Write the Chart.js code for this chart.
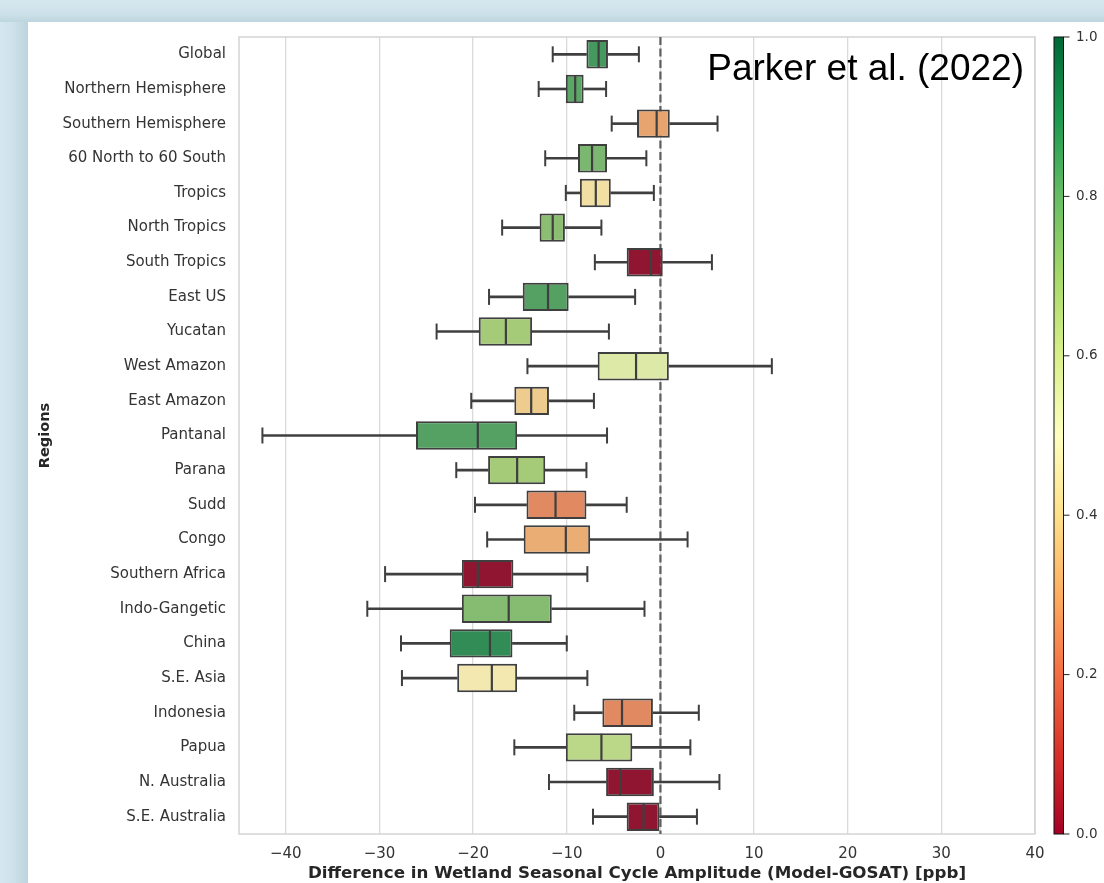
<!DOCTYPE html>
<html>
<head>
<meta charset="utf-8">
<script src="https://cdn.jsdelivr.net/npm/chart.js@4.4.0/dist/chart.umd.min.js"></script>
<style>
html,body{margin:0;padding:0;width:1104px;height:883px;overflow:hidden;background:linear-gradient(90deg,#d5e8ef 0px,#cce1e9 14px,#bcd4dd 28px,#d5e8ef 29px);}
#topband{position:absolute;left:0;top:0;width:1104px;height:22px;background:linear-gradient(180deg,#d5e8ef 0px,#cde1e9 14px,#bdd5de 22px);}
#panel{position:absolute;left:28px;top:22px;right:0;bottom:0;background:#ffffff;}
#c{position:absolute;left:0;top:0;}
</style>
</head>
<body>
<div id="topband"></div>
<div id="panel"></div>
<canvas id="c" width="1104" height="883"></canvas>
<script>
// ---------------- data ----------------
const regions = ['Global','Northern Hemisphere','Southern Hemisphere','60 North to 60 South','Tropics','North Tropics','South Tropics','East US','Yucatan','West Amazon','East Amazon','Pantanal','Parana','Sudd','Congo','Southern Africa','Indo-Gangetic','China','S.E. Asia','Indonesia','Papua','N. Australia','S.E. Australia'];
const whiskerLow  = [-11.5,-13.0,-5.2,-12.3,-10.1,-16.9,-7.0,-18.3,-23.9,-14.2,-20.2,-42.5,-21.8,-19.8,-18.5,-29.4,-31.3,-27.7,-27.6,-9.2,-15.6,-11.9,-7.2];
const q1          = [-7.9,-10.1,-2.5,-8.8,-8.6,-12.9,-3.6,-14.7,-19.4,-6.7,-15.6,-26.1,-18.4,-14.3,-14.6,-21.2,-21.2,-22.5,-21.7,-6.2,-10.1,-5.8,-3.6];
const median      = [-6.6,-9.1,-0.4,-7.3,-6.9,-11.5,-1.0,-12.0,-16.5,-2.6,-13.8,-19.5,-15.3,-11.2,-10.1,-19.5,-16.2,-18.2,-18.0,-4.1,-6.3,-4.3,-1.8];
const q3          = [-5.6,-8.2,1.0,-5.7,-5.3,-10.2,0.25,-9.8,-13.7,0.9,-11.9,-15.3,-12.3,-7.9,-7.5,-15.7,-11.6,-15.8,-15.3,-0.8,-3.0,-0.7,-0.1];
const whiskerHigh = [-2.3,-5.8,6.1,-1.5,-0.7,-6.3,5.5,-2.7,-5.5,11.9,-7.1,-5.7,-7.9,-3.6,2.9,-7.8,-1.7,-10.0,-7.8,4.1,3.2,6.3,3.9];
const colorValue  = [0.86,0.83,0.28,0.78,0.42,0.75,0.0,0.84,0.70,0.57,0.37,0.84,0.70,0.23,0.30,0.0,0.76,0.89,0.45,0.23,0.65,0.0,0.0];
const xTicks = [-40,-30,-20,-10,0,10,20,30,40];
const colorbarTicks = [0.0,0.2,0.4,0.6,0.8,1.0];
const xTitle = 'Difference in Wetland Seasonal Cycle Amplitude (Model-GOSAT) [ppb]';
const yTitle = 'Regions';
const annotation = 'Parker et al. (2022)';

// ---------------- colour map ----------------
const RDYLGN = ['#a50026','#d73027','#f46d43','#fdae61','#fee08b','#ffffbf','#d9ef8b','#a6d96a','#66bd63','#1a9850','#006837'];
function hex2rgb(h){return [parseInt(h.slice(1,3),16)/255,parseInt(h.slice(3,5),16)/255,parseInt(h.slice(5,7),16)/255];}
function cmap(t){
  t=Math.max(0,Math.min(1,t));
  const p=t*10, i=Math.min(9,Math.floor(p)), f=p-i;
  const a=hex2rgb(RDYLGN[i]), b=hex2rgb(RDYLGN[i+1]);
  return [0,1,2].map(k=>a[k]+(b[k]-a[k])*f);
}
function rgb2hls(r,g,b){
  const mx=Math.max(r,g,b), mn=Math.min(r,g,b), l=(mx+mn)/2;
  if(mx===mn) return [0,l,0];
  const d=mx-mn, s=l<=0.5?d/(mx+mn):d/(2-mx-mn);
  let h;
  if(mx===r) h=((g-b)/d)%6; else if(mx===g) h=(b-r)/d+2; else h=(r-g)/d+4;
  h/=6; if(h<0) h+=1;
  return [h,l,s];
}
function hls2rgb(h,l,s){
  if(s===0) return [l,l,l];
  const q=l<0.5?l*(1+s):l+s-l*s, p=2*l-q;
  const f=(t)=>{t=(t+1)%1; if(t<1/6) return p+(q-p)*6*t; if(t<1/2) return q; if(t<2/3) return p+(q-p)*(2/3-t)*6; return p;};
  return [f(h+1/3),f(h),f(h-1/3)];
}
function toCss(c){return 'rgb('+c.map(v=>Math.round(v*255)).join(',')+')';}
function boxColor(t){
  const c=cmap(t); const hls=rgb2hls(c[0],c[1],c[2]);
  return toCss(hls2rgb(hls[0],hls[1],hls[2]*0.75));
}

const LINE='#3f3f3f';
const FONT='DejaVu Sans';

// ---------------- plugins ----------------
const decor = {
  id:'decor',
  beforeDatasetsDraw(chart){
    const {ctx, chartArea:a, scales:{x}} = chart;
    ctx.save();
    ctx.strokeStyle='#d4d4d4'; ctx.lineWidth=1.5;
    ctx.strokeRect(a.left,a.top,a.right-a.left,a.bottom-a.top);
    const x0=x.getPixelForValue(0);
    ctx.strokeStyle='#5e5e5e'; ctx.lineWidth=2.2; ctx.setLineDash([8,3.5]);
    ctx.beginPath(); ctx.moveTo(x0,a.top); ctx.lineTo(x0,a.bottom); ctx.stroke();
    ctx.restore();
  },
  afterDraw(chart){
    const {ctx, chartArea:a, scales:{cb}} = chart;
    ctx.save();
    // annotation text
    ctx.fillStyle='#000'; ctx.font='37px "Liberation Sans", Arial, sans-serif';
    ctx.textAlign='right'; ctx.textBaseline='alphabetic';
    ctx.fillText(annotation, a.right-11, 80);
    // colorbar
    const x0=a.right+19, w=9.5;
    const yTop=cb.getPixelForValue(1), yBot=cb.getPixelForValue(0);
    const g=ctx.createLinearGradient(0,yBot,0,yTop);
    RDYLGN.forEach((c,i)=>g.addColorStop(i/10,c));
    ctx.fillStyle=g; ctx.fillRect(x0,yTop,w,yBot-yTop);
    ctx.strokeStyle='#111'; ctx.lineWidth=1; ctx.strokeRect(x0,yTop,w,yBot-yTop);
    ctx.beginPath();
    colorbarTicks.forEach(v=>{const y=cb.getPixelForValue(v); ctx.moveTo(x0+w,y); ctx.lineTo(x0+w+6,y);});
    ctx.strokeStyle='#222'; ctx.stroke();
    ctx.restore();
  }
};

// ---------------- chart ----------------
const capData=[];
regions.forEach((r,i)=>{capData.push({x:whiskerLow[i],y:r}); capData.push({x:whiskerHigh[i],y:r});});

new Chart(document.getElementById('c'),{
  type:'bar',
  data:{
    labels:regions,
    datasets:[
      {type:'scatter',label:'median',data:regions.map((r,i)=>({x:median[i],y:r})),pointStyle:'line',rotation:90,radius:13.5,borderColor:LINE,borderWidth:2.2,xAxisID:'x',yAxisID:'y',order:0},
      {type:'scatter',label:'caps',data:capData,pointStyle:'line',rotation:90,radius:8,borderColor:LINE,borderWidth:2,xAxisID:'x',yAxisID:'y',order:1},
      {type:'bar',label:'box',data:regions.map((r,i)=>[q1[i],q3[i]]),backgroundColor:colorValue.map(boxColor),borderColor:LINE,borderWidth:2,borderSkipped:false,barPercentage:0.82,categoryPercentage:1,grouped:false,xAxisID:'x',yAxisID:'y',order:2},
      {type:'bar',label:'whiskerLow',data:regions.map((r,i)=>[whiskerLow[i],q1[i]]),backgroundColor:LINE,borderWidth:0,barThickness:2,grouped:false,xAxisID:'x',yAxisID:'y',order:3},
      {type:'bar',label:'whiskerHigh',data:regions.map((r,i)=>[q3[i],whiskerHigh[i]]),backgroundColor:LINE,borderWidth:0,barThickness:2,grouped:false,xAxisID:'x',yAxisID:'y',order:3}
    ]
  },
  options:{
    indexAxis:'y',
    responsive:false,
    animation:false,
    events:[],
    layout:{padding:{left:30,top:37,right:0,bottom:0}},
    plugins:{legend:{display:false},tooltip:{enabled:false},title:{display:false}},
    scales:{
      x:{type:'linear',position:'bottom',min:-45,max:40,offset:false,
        afterBuildTicks:s=>{s.ticks=xTicks.map(v=>({value:v}));},
        afterFit:s=>{s.height=49;},
        grid:{color:'#dadada',lineWidth:1.3,drawTicks:false},
        border:{display:false},
        ticks:{font:{family:FONT,size:15},color:'#333',padding:11,callback:v=>v<0?'\u2212'+Math.abs(v):String(v)},
        title:{display:true,text:xTitle,font:{family:FONT,size:16.7,weight:'bold'},color:'#262626',padding:{top:0,bottom:-1}}
      },
      y:{type:'category',position:'left',offset:true,
        afterFit:s=>{s.width=209;},
        grid:{display:false,drawTicks:false},
        border:{display:false},
        ticks:{font:{family:FONT,size:15},color:'#333',padding:13,autoSkip:false},
        title:{display:true,text:yTitle,font:{family:FONT,size:14.5,weight:'bold'},color:'#262626',padding:{top:7,bottom:0}}
      },
      cb:{type:'linear',axis:'y',position:'right',min:0,max:1,offset:false,
        afterBuildTicks:s=>{s.ticks=colorbarTicks.map(v=>({value:v}));},
        afterFit:s=>{s.width=69;},
        grid:{display:true,drawOnChartArea:false,drawTicks:true,tickLength:33,tickColor:'rgba(0,0,0,0)',color:'rgba(0,0,0,0)',offset:false},
        border:{display:false},
        ticks:{font:{family:FONT,size:13.5},color:'#333',padding:8,callback:v=>Number(v).toFixed(1)}
      }
    }
  },
  plugins:[decor]
});
</script>
</body>
</html>
